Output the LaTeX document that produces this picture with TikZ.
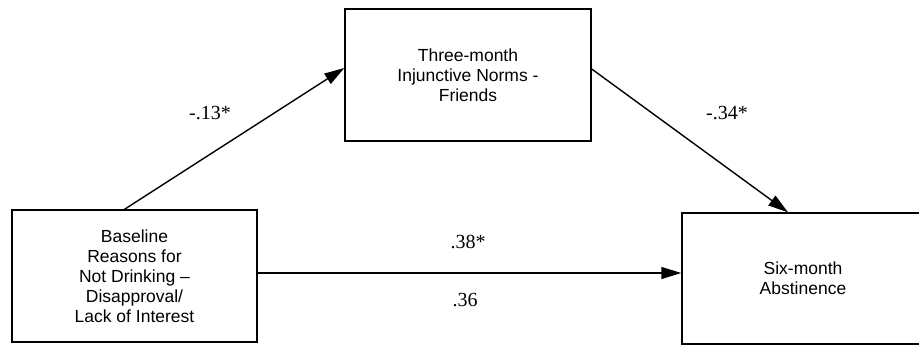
\documentclass[tikz,border=0pt]{standalone}
\usepackage{fontspec}
\setmainfont{Liberation Serif}
\newfontfamily\boxfont{Liberation Sans}
\usetikzlibrary{arrows.meta}
\begin{document}
\begin{tikzpicture}[x=1pt,y=-1pt,
  varbox/.style={draw, line width=1.4pt, align=center, inner sep=0pt,
    font=\boxfont\fontsize{17.5}{20}\selectfont},
  path/.style={line width=1.4pt, -{Triangle[length=20pt,width=12pt]}},
  coef/.style={font=\fontsize{20}{22}\selectfont, inner sep=0pt}]
\useasboundingbox (0,0) rectangle (919,345);
\clip (0,0) rectangle (919,345);
\node[varbox, minimum width=245pt, minimum height=132pt] (L) at (134.5,276)
  {Baseline\\Reasons for\\Not Drinking –\\Disapproval/\\Lack of Interest};
\node[varbox, minimum width=246pt, minimum height=132pt] (T) at (468,75)
  {Three-month\\Injunctive Norms -\\Friends};
\node[varbox, minimum width=242pt, minimum height=131pt] (R) at (803,278.5)
  {Six-month\\Abstinence};
\draw[path] ([xshift=-10pt]L.north) -- ([yshift=7pt]T.west);
\draw[path] ([yshift=6pt]T.east) -- ([xshift=-15pt]R.north);
\draw[path] ([yshift=3pt]L.east) -- ([yshift=3pt]L.east -| R.west);
\node[coef] (c1) at (210,113) {-.13*};
\node[coef] (c2) at (727,113) {-.34*};
\node[coef] (c3) at (468,242) {.38*};
\node[coef] (c4) at (465,300) {.36};
\end{tikzpicture}
\end{document}
